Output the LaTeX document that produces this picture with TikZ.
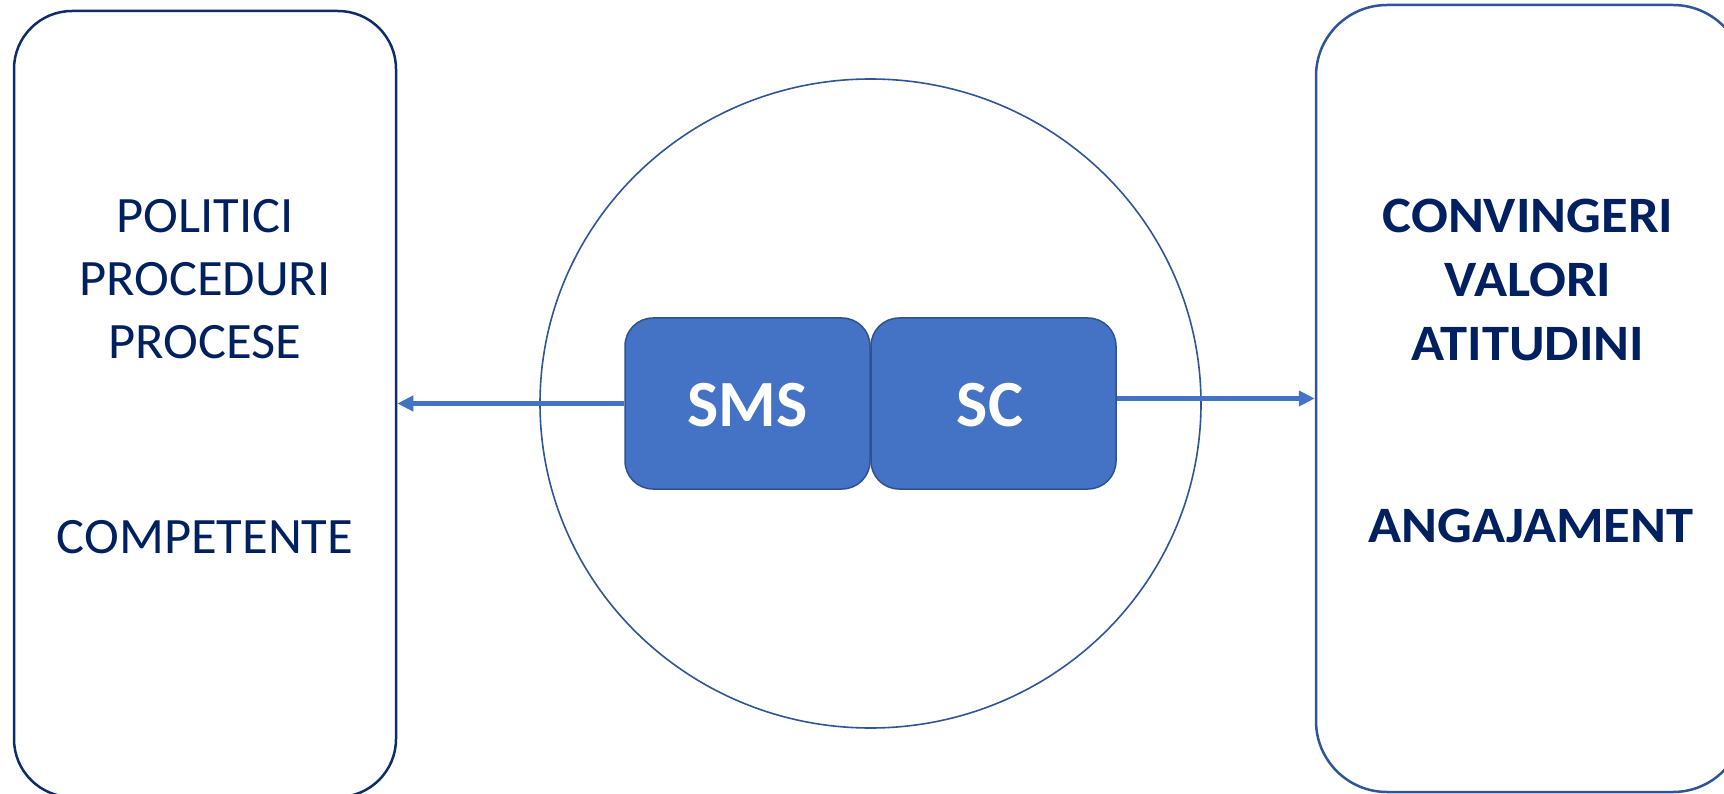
\documentclass[tikz,border=0pt]{standalone}
\usepackage{fontspec}
\setmainfont{Carlito}
\newfontfamily\leftfont[FakeStretch=1.03]{Carlito}
\newfontfamily\rightfont[FakeStretch=1.07]{Carlito}
\usetikzlibrary{shapes.geometric,arrows.meta}
\definecolor{navy}{HTML}{002060}
\definecolor{darkframe}{HTML}{102D6B}
\definecolor{midframe}{HTML}{2F5597}
\definecolor{fillblue}{HTML}{4472C4}
\definecolor{boxedge}{HTML}{2F528F}
\tikzset{
  sidebox/.style={draw, line width=2.5pt, fill=white, rectangle, inner sep=0pt},
  innerbox/.style={draw=boxedge, line width=1.5pt, fill=fillblue, rectangle, rounded corners=28pt, inner sep=0pt,
    minimum height=171pt},
  boxtxt/.style={anchor=base, text=white, inner sep=0pt, font=\fontsize{66}{70}\selectfont\bfseries},
  lefttxt/.style={anchor=base, text=navy, inner sep=0pt, font=\leftfont\fontsize{51}{55}\selectfont},
  righttxt/.style={anchor=base, text=navy, inner sep=0pt, font=\rightfont\fontsize{51}{55}\selectfont\bfseries},
  conn/.style={draw=fillblue, line width=4.5pt, -{Triangle[length=16pt,width=15pt]}},
}
\begin{document}
\begin{tikzpicture}[x=1pt,y=-1pt]
\useasboundingbox (0,0) rectangle (1724,794);
\clip (0,0) rectangle (1724,794);
\node[sidebox, draw=darkframe, rounded corners=58pt, minimum width=382pt, minimum height=786pt] (lb) at (205,404) {};
\node[sidebox, draw=midframe, rounded corners=71pt, minimum width=428pt, minimum height=787pt] (rb) at (1530,398.5) {};
\node[ellipse, draw=midframe, line width=1.6pt, minimum width=661pt, minimum height=649pt, inner sep=0pt] (circ) at (870.5,403.5) {};
\node[innerbox, minimum width=245pt] (sms) at (747.5,403.5) {};
\node[innerbox, minimum width=245pt] (sc) at (993.5,403.5) {};
\node[boxtxt] (smst) at (747.5,426) {SMS};
\node[boxtxt] (sct) at (990,426) {SC};
\node[lefttxt] (l1) at (205,233) {POLITICI};
\node[lefttxt] (l2) at (205,296) {PROCEDURI};
\node[lefttxt] (l3) at (205,358) {PROCESE};
\node[lefttxt] (l4) at (205,553) {COMPETENTE};
\node[righttxt] (r1) at (1528,233) {CONVINGERI};
\node[righttxt] (r2) at (1528,297) {VALORI};
\node[righttxt] (r3) at (1528,360) {ATITUDINI};
\node[righttxt] (r4) at (1531,542) {ANGAJAMENT};
\draw[conn] (sms.west) -- (sms.west -| lb.east);
\draw[conn] (sc.east |- rb.west) -- (rb.west);
\end{tikzpicture}
\end{document}
